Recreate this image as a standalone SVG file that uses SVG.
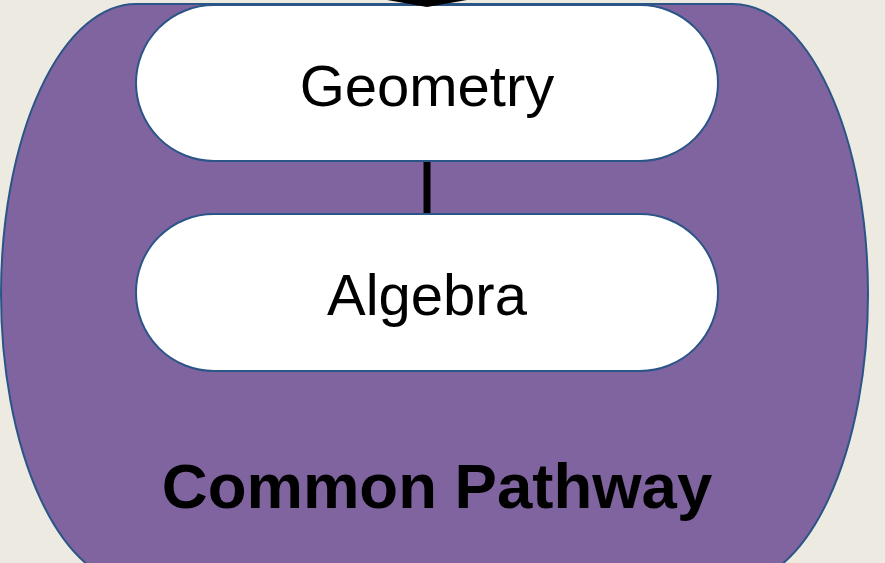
<svg xmlns="http://www.w3.org/2000/svg" width="885" height="563" viewBox="0 0 885 563">
<style>
.pill{fill:#FFFFFF;stroke:#2B5587;stroke-width:2}
.lbl{font-family:"Liberation Sans",Arial,sans-serif;font-size:58px;fill:#000;text-anchor:middle}
</style>
<rect x="0" y="0" width="885" height="563" fill="#EDEBE1"/>
<g id="common-pathway">
<rect x="1" y="4" width="867" height="580" rx="135" ry="290" fill="#8064A0" stroke="#2B5587" stroke-width="2"/>
<text x="437" y="508" font-family="'Liberation Sans',Arial,sans-serif" font-size="63.5" font-weight="bold" text-anchor="middle" fill="#000">Common Pathway</text>
</g>
<g id="geometry">
<rect class="pill" x="136" y="5" width="582" height="156" rx="78" ry="78"/>
<text class="lbl" x="427" y="106">Geometry</text>
</g>
<g id="algebra">
<rect class="pill" x="136" y="214" width="582" height="157" rx="78" ry="78"/>
<text class="lbl" x="427" y="315">Algebra</text>
</g>
<g id="connectors">
<line x1="427" y1="162" x2="427" y2="213" stroke="#000" stroke-width="7"/>
<polygon points="370,-3 484,-3 427,7" fill="#000"/>
</g>
</svg>
